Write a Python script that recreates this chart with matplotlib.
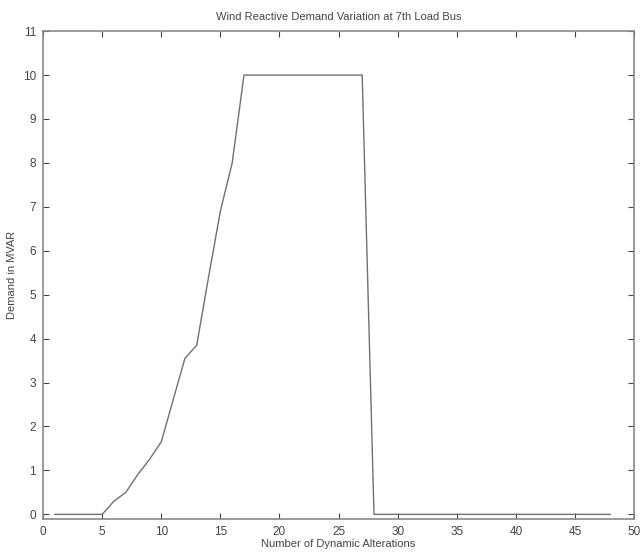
import numpy as np
import matplotlib.pyplot as plt

# reactive demand per alteration step
steps = list(range(1, 49))
demand = [0, 0, 0, 0, 0, 0.3, 0.5, 0.9, 1.25, 1.65,
          2.6, 3.55, 3.85, 5.4, 6.9, 8.0, 10, 10, 10, 10,
          10, 10, 10, 10, 10, 10, 10, 0, 0, 0,
          0, 0, 0, 0, 0, 0, 0, 0, 0, 0,
          0, 0, 0, 0, 0, 0, 0, 0]

xticks = list(range(0, 51, 5))
yticks = list(range(0, 12))

plt.rcParams['font.family'] = ['Liberation Sans', 'DejaVu Sans']

fig = plt.figure(figsize=(6.43, 5.56), dpi=100)
ax = fig.add_axes([0.067, 0.067, 0.919, 0.877])

ax.plot(steps, demand, color='#707070', linewidth=1.0)

ax.set_xlim(0, 50)
ax.set_ylim(-0.1, 11)
ax.set_xticks(xticks)
ax.set_yticks(yticks)
ax.tick_params(direction='in', length=4, labelsize=8.5, colors='#444444',
               top=True, right=True, width=0.8, pad=5)
for s in ax.spines.values():
    s.set_color('#8a8a8a')
    s.set_linewidth(1.2)

ax.set_title('Wind Reactive Demand Variation at 7th Load Bus', fontsize=8, color='#444444', pad=8)
ax.set_xlabel('Number of Dynamic Alterations', fontsize=8, color='#444444', labelpad=1)
ax.set_ylabel('Demand in MVAR', fontsize=8, color='#444444', labelpad=4)

fig.savefig('out.png', dpi=100)
